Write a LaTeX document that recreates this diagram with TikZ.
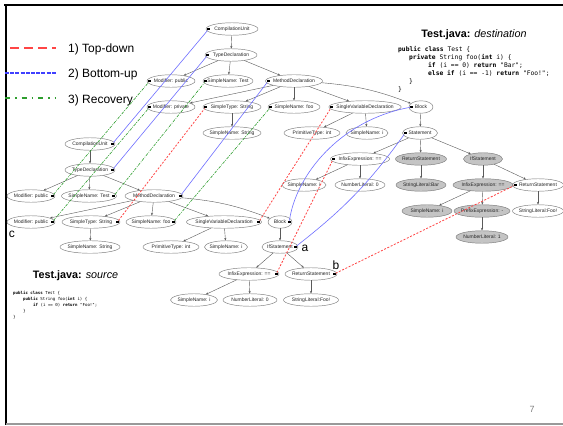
\documentclass[tikz,border=0pt]{standalone}
\usepackage{fontspec}
\setmainfont{Liberation Sans}
\setmonofont{DejaVu Sans Mono}
\usetikzlibrary{shapes.geometric,arrows.meta}
\definecolor{tdred}{HTML}{FF4545}
\definecolor{bublue}{HTML}{6E6EFF}
\definecolor{rcgreen}{HTML}{2E9E2E}
\definecolor{ndgray}{HTML}{C4C4C4}
\definecolor{edgegray}{HTML}{5A5A5A}
\definecolor{ringgray}{HTML}{7A7A7A}
\tikzset{
  nd/.style={ellipse, draw=ringgray, line width=0.45pt, inner xsep=-3pt, inner ysep=0pt, minimum height=12.5pt,
    font=\fontsize{5}{5.5}\selectfont, text=black!85},
  newnd/.style={nd, fill=ndgray},
  sq/.style={rectangle, fill=black, inner sep=0pt, minimum size=2.6pt},
  treeedge/.style={draw=edgegray, line width=0.4pt, -{Stealth[length=2.6pt,width=2.2pt]}},
  topdown/.style={draw=tdred, line width=0.8pt, dash pattern=on 2pt off 1.6pt},
  bottomup/.style={draw=bublue, line width=0.6pt},
  recovery/.style={draw=rcgreen, line width=0.6pt, dash pattern=on 3pt off 1.2pt on 0.8pt off 1.2pt},
  dcode/.style={anchor=base west, inner sep=0pt, font=\ttfamily\fontsize{6.3}{8}\selectfont},
  scode/.style={anchor=base west, inner sep=0pt, font=\ttfamily\fontsize{4.1}{6}\selectfont},
  legtext/.style={anchor=base west, inner sep=0pt, font=\fontsize{12}{14}\selectfont},
  lbl/.style={anchor=base, inner sep=0pt, font=\fontsize{12}{14}\selectfont},
  ttl/.style={anchor=base, inner sep=0pt, font=\fontsize{10.8}{12}\selectfont},
}
\newcommand\mkdsq[1]{\node[sq] (#1q) at ([xshift=3pt]#1.west) {};}
\newcommand\mkssq[1]{\node[sq] (#1q) at ([xshift=-3pt]#1.east) {};}
\begin{document}
\begin{tikzpicture}[x=1pt,y=-1pt]
\clip (0,0) rectangle (563,426);
\fill[white] (0,0) rectangle (563,426);
% frame
\draw[line width=2pt] (4,5) -- (563,5);
\draw[line width=2pt] (6,4) -- (6,425);
\draw[line width=2.2pt, draw=gray!80] (6,424) -- (563,424);

% legend
\draw[draw=tdred, line width=2pt, dash pattern=on 9pt off 5pt] (10,48) -- (56,48);
\draw[draw=blue!75, line width=2pt, dash pattern=on 4pt off 1.2pt] (5,73) -- (56,73);
\draw[draw=rcgreen, line width=2pt, dash pattern=on 5pt off 5pt on 1.5pt off 5pt] (5,98) -- (56,98);
\node[legtext] (l1) at (68,52.3) {1) Top-down};
\node[legtext] (l2) at (68,77.3) {2) Bottom-up};
\node[legtext] (l3) at (68,103) {3) Recovery};

% titles and code
\node[ttl] (dtitle) at (474,37) {\textbf{Test.java:} \textit{destination}};
\node[dcode] (dc1) at (398,51.5) {\textbf{public class} Test \{};
\node[dcode] (dc2) at (409,59.5) {\textbf{private} String foo(\textbf{int} i) \{};
\node[dcode] (dc3) at (428,67.5) {\textbf{if} (i == 0) \textbf{return} "Bar";};
\node[dcode] (dc4) at (428,75.5) {\textbf{else if} (i == -1) \textbf{return} "Foo!";};
\node[dcode] (dc5) at (409,83.5) {\}};
\node[dcode] (dc6) at (398,91.5) {\}};

\node[ttl] (stitle) at (75.5,278) {\textbf{Test.java:} \textit{source}};
\node[scode] (sc1) at (13,294) {\textbf{public class} Test \{};
\node[scode] (sc2) at (23,300) {\textbf{public} String foo(\textbf{int} i) \{};
\node[scode] (sc3) at (33,306) {\textbf{if} (i == 0) \textbf{return} "Foo!";};
\node[scode] (sc4) at (23,312) {\}};
\node[scode] (sc5) at (13,318) {\}};

% destination tree
\node[nd, minimum width=52pt] (dCU) at (232,29) {CompilationUnit};
\node[nd, minimum width=52pt] (dTD) at (231,55) {TypeDeclaration};
\node[nd, minimum width=48pt] (dMP) at (171,81) {Modifier: public};
\node[nd, minimum width=50pt] (dSNT) at (228,81) {SimpleName: Test};
\node[nd, minimum width=57pt] (dMD) at (294,81) {MethodDeclaration};
\node[nd, minimum width=48pt] (dMPr) at (171,107) {Modifier: private};
\node[nd, minimum width=58pt] (dST) at (232,107) {SimpleType: String};
\node[nd, minimum width=52pt] (dSNF) at (294,107) {SimpleName: foo};
\node[nd, minimum width=68pt] (dSVD) at (365,107) {SingleVariableDeclaration};
\node[nd, minimum width=24pt] (dBlk) at (421,107) {Block};
\node[nd, minimum width=58pt] (dSNS) at (232,133) {SimpleName: String};
\node[nd, minimum width=56pt] (dPT) at (312,133) {PrimitiveType: int};
\node[nd, minimum width=42pt] (dSNI) at (367,133) {SimpleName: i};
\node[nd, minimum width=35pt] (dStm) at (420,133) {Statement};
\node[nd, minimum width=59pt] (dIE) at (360,159) {InfixExpression: ==};
\node[newnd, minimum width=51pt] (dRS) at (421,159) {ReturnStatement};
\node[newnd, minimum width=39pt] (dIS) at (483,159) {IfStatement};
\node[nd, minimum width=44pt] (dSNIb) at (304,185) {SimpleName: i};
\node[nd, minimum width=50pt] (dNLz) at (360,185) {NumberLiteral: 0};
\node[newnd, minimum width=50pt] (dSLB) at (421,185) {StringLiteral:Bar};
\node[newnd, minimum width=60pt] (dIEb) at (483,185) {InfixExpression: ==};
\node[nd, minimum width=51pt] (dRSb) at (538,185) {ReturnStatement};
\node[newnd, minimum width=50pt] (dSNIc) at (427,211) {SimpleName: i};
\node[newnd, minimum width=56pt] (dPE) at (482,211) {PrefixExpression: -};
\node[nd, minimum width=51pt] (dSLF) at (538,211) {StringLiteral:Foo!};
\node[newnd, minimum width=52pt] (dNLo) at (482,237) {NumberLiteral: 1};

% source tree
\node[nd, minimum width=50pt] (sCU) at (90,144) {CompilationUnit};
\node[nd, minimum width=50pt] (sTD) at (90,170) {TypeDeclaration};
\node[nd, minimum width=48pt] (sMPa) at (31,196) {Modifier: public};
\node[nd, minimum width=55pt] (sSNT) at (89,196) {SimpleName: Test};
\node[nd, minimum width=58pt] (sMD) at (154,196) {MethodDeclaration};
\node[nd, minimum width=48pt] (sMPb) at (31,222) {Modifier: public};
\node[nd, minimum width=58pt] (sST) at (91,222) {SimpleType: String};
\node[nd, minimum width=50pt] (sSNF) at (151,222) {SimpleName: foo};
\node[nd, minimum width=75pt] (sSVD) at (224,222) {SingleVariableDeclaration};
\node[nd, minimum width=24pt] (sBlk) at (280,222) {Block};
\node[nd, minimum width=60pt] (sSNS) at (90,247) {SimpleName: String};
\node[nd, minimum width=56pt] (sPT) at (171,247) {PrimitiveType: int};
\node[nd, minimum width=43pt] (sSNI) at (226,247) {SimpleName: i};
\node[nd, minimum width=36pt] (sIS) at (280,247) {IfStatement};
\node[nd, minimum width=60pt] (sIE) at (249,274) {InfixExpression: ==};
\node[nd, minimum width=52pt] (sRS) at (311,274) {ReturnStatement};
\node[nd, minimum width=47pt] (sSNIb) at (194,300) {SimpleName: i};
\node[nd, minimum width=54pt] (sNLz) at (250,300) {NumberLiteral: 0};
\node[nd, minimum width=55pt] (sSLF) at (311,300) {StringLiteral:Foo!};

% tree edges: destination
\draw[treeedge] (dCU) -- (dTD);
\draw[treeedge] (dTD) -- (dMP);
\draw[treeedge] (dTD) -- (dSNT);
\draw[treeedge] (dTD) -- (dMD);
\draw[treeedge] (dMD) -- (dMPr);
\draw[treeedge] (dMD) -- (dST);
\draw[treeedge] (dMD) -- (dSNF);
\draw[treeedge] (dMD) -- (dSVD);
\draw[treeedge] (dMD) to[bend left=8] (dBlk);
\draw[treeedge] (dST) -- (dSNS);
\draw[treeedge] (dSVD) -- (dPT);
\draw[treeedge] (dSVD) -- (dSNI);
\draw[treeedge] (dBlk) -- (dStm);
\draw[treeedge] (dStm) -- (dIE);
\draw[treeedge] (dStm) -- (dRS);
\draw[treeedge] (dStm) -- (dIS);
\draw[treeedge] (dIE) -- (dSNIb);
\draw[treeedge] (dIE) -- (dNLz);
\draw[treeedge] (dRS) -- (dSLB);
\draw[treeedge] (dIS) -- (dIEb);
\draw[treeedge] (dIS) -- (dRSb);
\draw[treeedge] (dIEb) -- (dSNIc);
\draw[treeedge] (dIEb) -- (dPE);
\draw[treeedge] (dPE) -- (dNLo);
\draw[treeedge] (dRSb) -- (dSLF);

% tree edges: source
\draw[treeedge] (sCU) -- (sTD);
\draw[treeedge] (sTD) -- (sMPa);
\draw[treeedge] (sTD) -- (sSNT);
\draw[treeedge] (sTD) -- (sMD);
\draw[treeedge] (sMD) -- (sMPb);
\draw[treeedge] (sMD) -- (sST);
\draw[treeedge] (sMD) -- (sSNF);
\draw[treeedge] (sMD) -- (sSVD);
\draw[treeedge] (sMD) to[bend left=8] (sBlk);
\draw[treeedge] (sST) -- (sSNS);
\draw[treeedge] (sSVD) -- (sPT);
\draw[treeedge] (sSVD) -- (sSNI);
\draw[treeedge] (sBlk) -- (sIS);
\draw[treeedge] (sIS) -- (sIE);
\draw[treeedge] (sIS) -- (sRS);
\draw[treeedge] (sIE) -- (sSNIb);
\draw[treeedge] (sIE) -- (sNLz);
\draw[treeedge] (sRS) -- (sSLF);

% attachment squares
\mkdsq{dCU}\mkdsq{dTD}\mkdsq{dMP}\mkdsq{dSNT}\mkdsq{dMD}\mkdsq{dMPr}\mkdsq{dST}
\mkdsq{dSNF}\mkdsq{dSVD}\mkdsq{dBlk}\mkdsq{dStm}\mkdsq{dIE}\mkdsq{dRSb}
\mkssq{sCU}\mkssq{sTD}\mkssq{sMPa}\mkssq{sSNT}\mkssq{sMD}\mkssq{sMPb}\mkssq{sST}
\mkssq{sSNF}\mkssq{sSVD}\mkssq{sBlk}\mkssq{sIS}\mkssq{sIE}\mkssq{sRS}

% mappings
\draw[bottomup] (sCUq) -- (dCUq);
\draw[bottomup] (sTDq) -- (dTDq);
\draw[bottomup] (sMDq) -- (dMDq);
\draw[bottomup] (sBlkq) .. controls (296,175) and (340,120) .. (dBlkq);
\draw[bottomup] (sISq) to[bend right=8] (dStmq);

\draw[recovery] (sMPaq) -- (dMPq);
\draw[recovery] (sMPbq) -- (dMPrq);
\draw[recovery] (sSNTq) -- (dSNTq);
\draw[recovery] (sSNFq) -- (dSNFq);

\draw[topdown] (sSTq) -- (dSTq);
\draw[topdown] (sSVDq) -- (dSVDq);
\draw[topdown] (sIEq) -- (dIEq);
\draw[topdown] (sRSq) -- (dRSbq);

% labels
\node[lbl] (la) at (305,251.5) {a};
\node[lbl] (lb) at (336,269.5) {b};
\node[lbl] (lc) at (12,237) {c};
\node[anchor=base, inner sep=0pt, font=\fontsize{9}{10}\selectfont, text=gray] (pg) at (532,412) {7};
\end{tikzpicture}
\end{document}
